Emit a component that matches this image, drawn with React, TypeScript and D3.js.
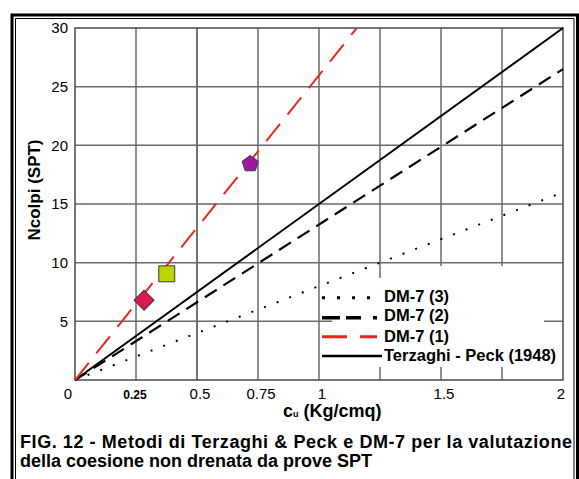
import * as d3 from 'd3';

// cu (Kg/cmq) end points of each straight-line method, with the matching Ncolpi
const terzaghiCu = [0, 2];
const terzaghiN = [0, 30];
const dm7_1Cu = [0, 1.155];
const dm7_1N = [0, 30];
const dm7_2Cu = [0, 2];
const dm7_2N = [0, 26.5];
const dm7_3Cu = [0, 2];
const dm7_3N = [0, 16];

// measured points
const pointNames = ['diamond', 'square', 'pentagon'];
const pointCu = [0.283, 0.376, 0.718];
const pointN = [6.8, 9.05, 18.5];
const pointColors = ['#dc1a4c', '#bcd400', '#a0189e'];

// axes
const xGrid = [0.25, 0.5, 0.75, 1, 1.25, 1.5, 1.75];
const xTickValues = [0, 0.25, 0.5, 0.75, 1, 1.5, 2];
const xTickLabels = ['0', '0.25', '0.5', '0.75', '1', '1.5', '2'];
const yGrid = [5, 10, 15, 20, 25];
const yTickValues = [5, 10, 15, 20, 25, 30];
const yTickLabels = ['5', '10', '15', '20', '25', '30'];

const legendLabels = ['DM-7 (3)', 'DM-7 (2)', 'DM-7 (1)', 'Terzaghi - Peck (1948)'];
const captionLines = [
  'FIG. 12 - Metodi di Terzaghi & Peck e DM-7 per la valutazione',
  'della coesione non drenata da prove SPT',
];

const W = 579;
const H = 479;
const FONT = '"Liberation Sans", Arial, Helvetica, sans-serif';

const x = d3.scaleLinear().domain([0, 2]).range([75, 563]);
const y = d3.scaleLinear().domain([0, 30]).range([380, 28]);

const lineGen = (cu: number[], n: number[]) =>
  d3.line<number>().x((d) => x(d)).y((_, i) => y(n[i]))(cu) as string;

const pentagon = (r: number) =>
  d3.range(5).map((i) => {
    const a = -Math.PI / 2 + (i * 2 * Math.PI) / 5;
    return `${i ? 'L' : 'M'}${r * Math.cos(a)},${r * Math.sin(a) + 1}`;
  }).join('') + 'Z';

const markerPath = (name: string) => {
  if (name === 'diamond') return d3.symbol().type(d3.symbolSquare).size(200)() as string;
  if (name === 'square') return d3.symbol().type(d3.symbolSquare).size(255)() as string;
  return pentagon(8.5);
};

const legendSamples = [
  { color: '#000', w: 3, dash: '3,12', x2: 371, y: 297.7, base: 301.7 },
  { color: '#000', w: 3.5, dash: '18,6,15,12', x2: 377, y: 317.7, base: 320.5 },
  { color: '#e5261d', w: 3, dash: '25,13', x2: 377, y: 336.7, base: 341.7 },
  { color: '#000', w: 2.5, dash: undefined, x2: 382, y: 356, base: 360.7 },
];

const GRID = '#6a6a6a';

const App = () => {
  const x0 = x(0);
  const x2 = x(2);
  const yTop = y(30);
  const yBot = y(0);
  return (
    <div style={{ position: 'absolute', left: 0, top: 0, width: W, height: H, background: '#fff' }}>
      <svg width={W} height={H} style={{ display: 'block' }} fontFamily={FONT}>
        {/* grid */}
        <g stroke={GRID} strokeWidth={1.5}>
          {xGrid.map((d) => (
            <line
              key={`v${d}`}
              x1={x(d)} x2={x(d)} y1={yTop} y2={yBot}
              stroke={d === 0.5 ? '#000' : GRID}
              strokeWidth={d === 0.5 ? 1.1 : 1.5}
            />
          ))}
          {yGrid.map((d) => (
            <line key={`h${d}`} x1={x0} x2={x2} y1={y(d)} y2={y(d)} />
          ))}
        </g>

        {/* plot frame */}
        <rect x={x0} y={yTop} width={x2 - x0} height={yBot - yTop} fill="none" stroke="#4a4a4a" strokeWidth={1.5} />

        {/* double frame, open at the bottom */}
        <path d={`M12,${H + 5} V15 H577.5 V${H + 5}`} fill="none" stroke="#000" strokeWidth={3} />
        <path d={`M15.5,${H + 5} V18.5 H574 V${H + 5}`} fill="none" stroke="#000" strokeWidth={1} />

        {/* legend background covers the grid */}
        <rect x={332} y={278} width={212} height={89} fill="#fff" />
        <rect x={384} y={266} width={160} height={14} fill="#fff" />

        {/* series */}
        <path d={lineGen(dm7_3Cu, dm7_3N)} fill="none" stroke="#000" strokeWidth={2} strokeDasharray="2,11.5" />
        <path d={lineGen(dm7_2Cu, dm7_2N)} fill="none" stroke="#000" strokeWidth={2.2} strokeDasharray="14,8" />
        <path d={lineGen(terzaghiCu, terzaghiN)} fill="none" stroke="#000" strokeWidth={2} />
        <path d={lineGen(dm7_1Cu, dm7_1N)} fill="none" stroke="#e8281e" strokeWidth={2} strokeDasharray="22,12" />

        {/* markers */}
        {pointNames.map((name, i) => (
          <path
            key={name}
            d={markerPath(name)}
            transform={`translate(${x(pointCu[i])},${y(pointN[i])})${name === 'diamond' ? ' rotate(45)' : ''}`}
            fill={pointColors[i]}
            stroke="#3a3a3a"
            strokeWidth={1}
          />
        ))}

        {/* legend */}
        {legendSamples.map((s, i) => (
          <g key={legendLabels[i]}>
            <line x1={322} x2={s.x2} y1={s.y} y2={s.y} stroke={s.color} strokeWidth={s.w} strokeDasharray={s.dash} />
            <text x={384} y={s.base} fontWeight="bold" fontSize={16.5} fill="#000">
              {legendLabels[i]}
            </text>
          </g>
        ))}

        {/* y tick labels */}
        {yTickValues.map((d, i) => (
          <text key={`yt${d}`} x={68} y={y(d) + 5.3} textAnchor="end" fontSize={15} fill="#000">
            {yTickLabels[i]}
          </text>
        ))}

        {/* x tick labels */}
        {xTickValues.map((d, i) => (
          <text
            key={`xt${d}`}
            x={x(d)}
            dx={d === 0 ? -3 : d === 2 ? 2 : d === 0.25 ? -1 : 3}
            y={399}
            textAnchor={d === 0 || d === 2 ? 'end' : 'middle'}
            fontSize={d === 0.25 ? 12 : 15}
            fontWeight={d === 0.25 ? 'bold' : 'normal'}
            fill="#000"
          >
            {xTickLabels[i]}
          </text>
        ))}

        {/* axis titles */}
        <text x={283} y={417} fontWeight="bold" fontSize={18} fill="#000">
          <tspan>c</tspan>
          <tspan fontSize={9}>u</tspan>
          <tspan> (Kg/cmq)</tspan>
        </text>
        <text
          transform="translate(40,190) rotate(-90)"
          textAnchor="middle"
          fontWeight="bold"
          fontSize={17}
          fill="#000"
        >
          Ncolpi (SPT)
        </text>

        {/* caption, first line justified to the frame width */}
        {captionLines.map((t, i) => (
          <text
            key={t}
            x={20}
            y={448 + i * 19}
            fontWeight="bold"
            fontSize={18}
            fill="#000"
            textLength={i === 0 ? 552 : undefined}
            lengthAdjust={i === 0 ? 'spacing' : undefined}
          >
            {t}
          </text>
        ))}
      </svg>
    </div>
  );
};

export default App;
